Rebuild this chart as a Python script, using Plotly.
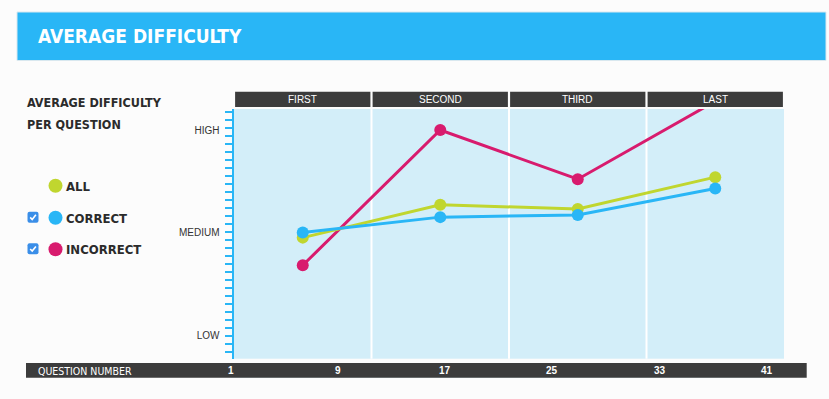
import plotly.graph_objects as go

# ---------------- data ----------------
categories = ["FIRST", "SECOND", "THIRD", "LAST"]
all_values = [1.95, 2.27, 2.23, 2.54]
correct_values = [2.00, 2.15, 2.17, 2.43]
incorrect_values = [1.68, 3.00, 2.52, 3.28]
level_values = [1, 2, 3]
level_labels = ["LOW", "MEDIUM", "HIGH"]
question_ticks = [1, 9, 17, 25, 33, 41]
series_names = ["ALL", "CORRECT", "INCORRECT"]

# ---------------- style ----------------
W, H = 829, 399
GREEN = "#c0d62f"
BLUE = "#29b6f6"
MAGENTA = "#d81b6e"
DARK = "#3c3c3c"
PLOT_BG = "#d3eef9"
PAGE_BG = "#fcfcfc"
COND = "Liberation Sans Narrow, DejaVu Sans Condensed, Arial Narrow, sans-serif"
SANS = "Liberation Sans, Arial, Helvetica, sans-serif"


def px(x):
    return x / W


def py(y):
    return 1 - y / H


# plot area in pixels
PL, PR, PT, PB = 234, 784, 109, 358.7
# value scale: LOW=1 at y=335, 102.5 px per level
UNIT = 102.5
y_lo = 1 + (335 - PB) / UNIT
y_hi = 1 + (335 - PT) / UNIT

xpos = [i + 0.5 for i in range(len(categories))]

fig = go.Figure()

for vals, col, name in [
    (incorrect_values, MAGENTA, "INCORRECT"),
    (all_values, GREEN, "ALL"),
    (correct_values, BLUE, "CORRECT"),
]:
    fig.add_trace(
        go.Scatter(
            x=xpos,
            y=vals,
            mode="lines+markers",
            name=name,
            line=dict(color=col, width=3),
            marker=dict(color=col, size=12),
            cliponaxis=True,
            showlegend=False,
            hoverinfo="skip",
        )
    )

# dummy trace for the question-number scale (separate subplot in the bottom bar)
fig.add_trace(
    go.Scatter(
        x=[question_ticks[0], question_ticks[-1]],
        y=[None, None],
        xaxis="x2",
        yaxis="y2",
        showlegend=False,
        hoverinfo="skip",
    )
)

shapes = []
annotations = []

# header box
shapes.append(
    dict(
        type="rect", xref="paper", yref="paper",
        x0=px(17), x1=px(826), y0=py(60.5), y1=py(12),
        fillcolor=BLUE, line=dict(color="#d9e8ef", width=1), layer="below",
    )
)
annotations.append(
    dict(
        text="<b>AVERAGE DIFFICULTY</b>", xref="paper", yref="paper",
        x=px(36), y=py(36), xanchor="left", yanchor="middle", showarrow=False,
        font=dict(family=COND, size=19, color="white"),
    )
)

# column header bars + labels
for i, cat in enumerate(categories):
    shapes.append(
        dict(
            type="rect", xref="x", yref="paper",
            x0=i + 0.008, x1=i + 1 - 0.008, y0=py(107), y1=py(91.7),
            fillcolor=DARK, line=dict(width=0),
        )
    )
    annotations.append(
        dict(
            text=cat, xref="x", yref="paper", x=i + 0.5, y=py(99.5),
            xanchor="center", yanchor="middle", showarrow=False,
            font=dict(family=SANS, size=10, color="white"),
        )
    )

# white separators inside plot
for i in range(1, len(categories)):
    shapes.append(
        dict(
            type="line", xref="x", yref="paper", x0=i, x1=i,
            y0=py(PB), y1=py(PT), line=dict(color="white", width=2),
            layer="below",
        )
    )

# bottom bar
shapes.append(
    dict(
        type="rect", xref="paper", yref="paper",
        x0=px(26), x1=px(806.7), y0=py(377.7), y1=py(363),
        fillcolor=DARK, line=dict(width=0),
    )
)
annotations.append(
    dict(
        text="QUESTION NUMBER", xref="paper", yref="paper",
        x=px(36), y=py(370.5), xanchor="left", yanchor="middle",
        showarrow=False, font=dict(family=COND, size=10.5, color="white"),
    )
)
for q in question_ticks:
    annotations.append(
        dict(
            text="<b>%d</b>" % q, xref="x2", yref="paper", x=q, y=py(370.5),
            xanchor="center", yanchor="middle", showarrow=False,
            font=dict(family=SANS, size=10, color="white"),
        )
    )

# left heading
annotations.append(
    dict(
        text="<b>AVERAGE DIFFICULTY</b>", xref="paper", yref="paper",
        x=px(25), y=py(102), xanchor="left", yanchor="middle", showarrow=False,
        font=dict(family=COND, size=12.5, color="#2b2b2b"),
    )
)
annotations.append(
    dict(
        text="<b>PER QUESTION</b>", xref="paper", yref="paper",
        x=px(25), y=py(125), xanchor="left", yanchor="middle", showarrow=False,
        font=dict(family=COND, size=12.5, color="#2b2b2b"),
    )
)

# legend
legend_rows = [(185.7, GREEN, False), (217.7, BLUE, True), (249.3, MAGENTA, True)]
for (cy, col, checked), name in zip(legend_rows, series_names):
    cx, r = 55.5, 7
    shapes.append(
        dict(
            type="circle", xref="paper", yref="paper",
            x0=px(cx - r), x1=px(cx + r), y0=py(cy + r), y1=py(cy - r),
            fillcolor=col, line=dict(width=0),
        )
    )
    annotations.append(
        dict(
            text="<b>%s</b>" % name, xref="paper", yref="paper",
            x=px(64), y=py(cy + 0.5), xanchor="left", yanchor="middle",
            showarrow=False, font=dict(family=COND, size=13, color="#2b2b2b"),
        )
    )
    if checked:
        bx, by, s, rr = 33, cy - 0.5, 5.5, 2
        path = (
            f"M {px(bx - s + rr)},{py(by - s)} L {px(bx + s - rr)},{py(by - s)} "
            f"Q {px(bx + s)},{py(by - s)} {px(bx + s)},{py(by - s + rr)} "
            f"L {px(bx + s)},{py(by + s - rr)} "
            f"Q {px(bx + s)},{py(by + s)} {px(bx + s - rr)},{py(by + s)} "
            f"L {px(bx - s + rr)},{py(by + s)} "
            f"Q {px(bx - s)},{py(by + s)} {px(bx - s)},{py(by + s - rr)} "
            f"L {px(bx - s)},{py(by - s + rr)} "
            f"Q {px(bx - s)},{py(by - s)} {px(bx - s + rr)},{py(by - s)} Z"
        )
        shapes.append(
            dict(type="path", xref="paper", yref="paper", path=path,
                 fillcolor="#3a8ee8", line=dict(width=0))
        )
        check = (
            f"M {px(bx - 2.8)},{py(by + 0.2)} L {px(bx - 0.8)},{py(by + 2.3)} "
            f"L {px(bx + 2.9)},{py(by - 2.4)}"
        )
        shapes.append(
            dict(type="path", xref="paper", yref="paper", path=check,
                 line=dict(color="white", width=1.6))
        )

fig.update_layout(
    width=W,
    height=H,
    autosize=False,
    margin=dict(l=0, r=0, t=0, b=0),
    paper_bgcolor=PAGE_BG,
    plot_bgcolor=PLOT_BG,
    shapes=shapes,
    annotations=annotations,
    xaxis=dict(
        domain=[px(PL), px(PR)], range=[0, len(categories)],
        showgrid=False, zeroline=False, showticklabels=False,
        showline=False, ticks="", fixedrange=True,
    ),
    xaxis2=dict(
        domain=[px(231), px(766.7)],
        range=[question_ticks[0], question_ticks[-1]],
        anchor="y2", visible=False, fixedrange=True,
    ),
    yaxis2=dict(
        domain=[py(377.5), py(363.5)], range=[0, 1],
        anchor="x2", visible=False, fixedrange=True,
    ),
    yaxis=dict(
        domain=[py(PB), py(PT)], range=[y_lo, y_hi],
        tickvals=level_values, ticktext=level_labels,
        tickfont=dict(family=SANS, size=10, color="#333333"),
        ticks="outside", ticklen=10, tickcolor="rgba(0,0,0,0)",
        showline=True, linecolor=BLUE, linewidth=2.5,
        showgrid=False, zeroline=False, fixedrange=True,
        minor=dict(
            ticks="outside", ticklen=7, tickcolor=BLUE, tickwidth=2,
            tick0=1 + (335 - 111.7) / UNIT, dtick=8 / UNIT, showgrid=False,
        ),
    ),
)

fig.write_html(
    "out.html",
    config={"displayModeBar": False, "staticPlot": True},
    post_script="document.body.style.margin='0';document.body.style.background='%s';" % PAGE_BG,
)
